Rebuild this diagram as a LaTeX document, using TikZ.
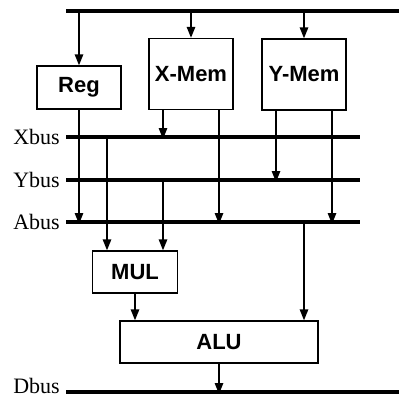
\documentclass[tikz,border=0pt]{standalone}
\usepackage{fontspec}
\setmainfont{Liberation Serif}
\setsansfont{Liberation Sans}
\usetikzlibrary{arrows.meta}
\begin{document}
\begin{tikzpicture}[x=1pt,y=-1pt,
  bus/.style={line width=3.8pt},
  wire/.style={line width=1.4pt},
  arr/.style={wire,-{Triangle[length=11pt,width=8.5pt]}},
  unit/.style={draw,line width=1.4pt,minimum width=84pt,inner sep=0pt,
    font=\sffamily\bfseries\fontsize{22}{24}\selectfont},
  buslabel/.style={anchor=east,inner sep=0pt,font=\fontsize{22}{24}\selectfont}]
\useasboundingbox (0,0) rectangle (399,397);
% buses
\coordinate (topL) at (66,11);   \coordinate (topR) at (399,11);
\coordinate (xbL) at (66,137);   \coordinate (xbR) at (360,137);
\coordinate (ybL) at (66,180);   \coordinate (ybR) at (360,180);
\coordinate (abL) at (66,222);   \coordinate (abR) at (360,222);
\coordinate (dbL) at (66,392);   \coordinate (dbR) at (399,392);
\draw[bus] (topL) -- (topR);
\draw[bus] (xbL) -- (xbR);
\draw[bus] (ybL) -- (ybR);
\draw[bus] (abL) -- (abR);
\draw[bus] (dbL) -- (dbR);
\node[buslabel] (lx) at ([xshift=-6pt]xbL) {Xbus};
\node[buslabel] (ly) at ([xshift=-6pt]ybL) {Ybus};
\node[buslabel] (la) at ([xshift=-6pt]abL) {Abus};
\node[buslabel,anchor=base east] (ld) at ([xshift=-6pt,yshift=-1pt]dbL) {Dbus};
% units
\node[unit,minimum height=43pt] (reg) at (79,87.5) {Reg};
\node[unit,minimum height=71pt] (xmem) at (191,74) {X-Mem};
\node[unit,minimum height=71pt] (ymem) at (304,74.5) {Y-Mem};
\node[unit,minimum height=42pt,minimum width=85pt] (mul) at (135,272) {MUL};
\node[unit,minimum height=42pt,minimum width=198pt] (alu) at (219,342) {ALU};
% top bus to units
\draw[arr] (reg.north |- topL) -- (reg.north);
\draw[arr] (xmem.north |- topL) -- (xmem.north);
\draw[arr] (ymem.north |- topL) -- (ymem.north);
% units to buses
\draw[arr] ([xshift=-28pt]xmem.south) -- ([xshift=-28pt,yshift=-2pt]xmem.south |- xbL);
\draw[arr] ([xshift=28pt]xmem.south) -- ([xshift=28pt,yshift=-2pt]xmem.south |- abL);
\draw[arr] ([xshift=-28pt]ymem.south) -- ([xshift=-28pt,yshift=-2pt]ymem.south |- ybL);
\draw[arr] ([xshift=28pt]ymem.south) -- ([xshift=28pt,yshift=-2pt]ymem.south |- abL);
\draw[arr] (reg.south) -- ([yshift=-2pt]reg.south |- abL);
% buses to MUL
\draw[arr] ([xshift=-28pt]mul.north |- xbL) -- ([xshift=-28pt]mul.north);
\draw[arr] ([xshift=28pt]mul.north |- ybL) -- ([xshift=28pt]mul.north);
% MUL to ALU, Abus to ALU
\draw[arr] (mul.south) -- (mul.south |- alu.north);
\draw[arr] ([xshift=85pt]alu.north |- abL) -- ([xshift=85pt]alu.north);
% ALU to Dbus
\draw[arr] (alu.south) -- ([yshift=-2pt]alu.south |- dbL);
\end{tikzpicture}
\end{document}
